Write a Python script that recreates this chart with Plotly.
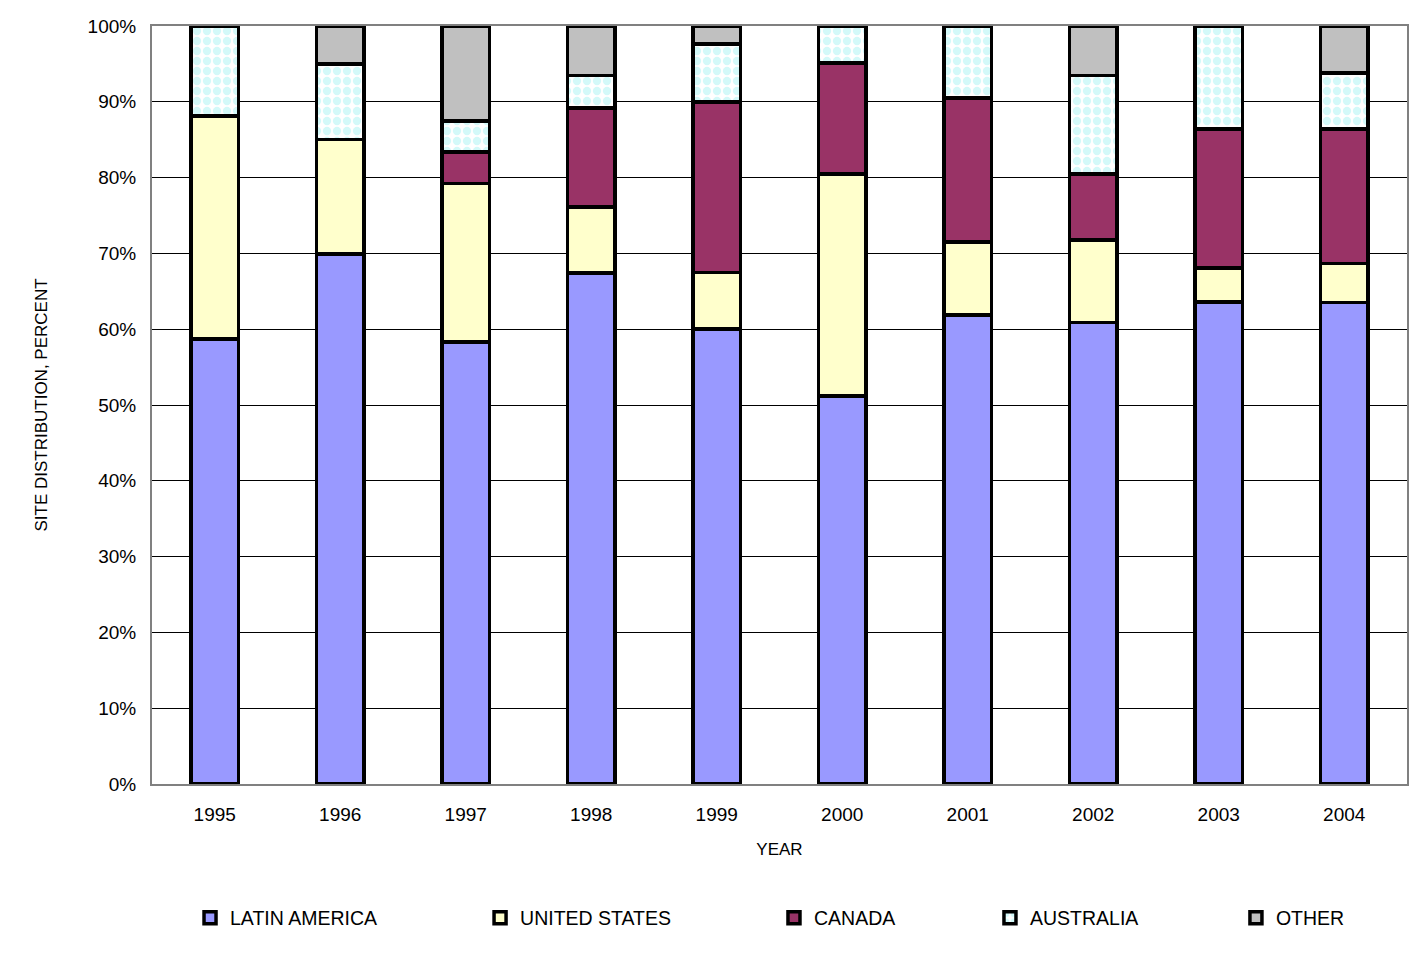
import plotly.graph_objects as go

years = ["1995", "1996", "1997", "1998", "1999", "2000", "2001", "2002", "2003", "2004"]
latin_america = [58.7, 69.9, 58.3, 67.4, 60.0, 51.2, 61.9, 60.9, 63.6, 63.5]
united_states = [29.4, 15.1, 20.9, 8.7, 7.5, 29.3, 9.6, 10.9, 4.5, 5.2]
canada = [0.0, 0.0, 4.2, 13.1, 22.5, 14.6, 19.0, 8.7, 18.3, 17.7]
australia = [11.9, 10.0, 4.1, 4.3, 7.6, 4.9, 9.5, 13.0, 13.6, 7.4]
other = [0.0, 5.0, 12.5, 6.5, 2.4, 0.0, 0.0, 6.5, 0.0, 6.2]

series = [
    ("LATIN AMERICA", latin_america, "#9999FF", None, "legend", 0.0303),
    ("UNITED STATES", united_states, "#FFFFCC", None, "legend2", 0.2614),
    ("CANADA", canada, "#993366", None, "legend3", 0.4956),
    ("AUSTRALIA", australia, "#FFFFFF", dict(shape=".", fgcolor="#A8F4F4", bgcolor="#FFFFFF", size=10, solidity=0.55), "legend4", 0.6677),
    ("OTHER", other, "#C0C0C0", None, "legend5", 0.8637),
]

fig = go.Figure()
layout_legends = {}
for name, vals, color, pattern, lg, lx in series:
    marker = dict(color=color, line=dict(color="black", width=3.5))
    if pattern:
        marker["pattern"] = pattern
    fig.add_trace(go.Bar(x=years, y=vals, name=name, marker=marker, width=0.38, legend=lg))
    layout_legends[lg] = dict(
        x=lx, y=-0.1768, xanchor="left", yanchor="middle", orientation="h",
        font=dict(family="Liberation Sans, Arial, sans-serif", size=19.5, color="black"),
        bgcolor="rgba(0,0,0,0)", borderwidth=0,
    )

fig.update_layout(
    barmode="stack",
    width=1423, height=963,
    margin=dict(l=152, r=16, t=26, b=179),
    paper_bgcolor="white", plot_bgcolor="white",
    font=dict(family="Liberation Sans, Arial, sans-serif", color="black"),
    showlegend=True,
    **layout_legends,
)
fig.update_xaxes(
    title=dict(text="YEAR", font=dict(size=17), standoff=19),
    tickfont=dict(size=19), ticks="", ticklabelstandoff=12,
    showline=True, linecolor="#808080", linewidth=2, mirror=True,
    showgrid=False,
)
fig.update_yaxes(
    title=dict(text="SITE DISTRIBUTION, PERCENT", font=dict(size=17), standoff=36),
    range=[0, 100], dtick=10, ticksuffix="%", tickfont=dict(size=19), ticks="",
    ticklabelstandoff=10,
    showgrid=True, gridcolor="black", gridwidth=1, zeroline=False,
    showline=True, linecolor="#808080", linewidth=2, mirror=True,
)

fig.write_html(
    "out.html",
    config={"displayModeBar": False},
    post_script="document.body.style.margin='0';document.body.style.overflow='hidden';",
)
